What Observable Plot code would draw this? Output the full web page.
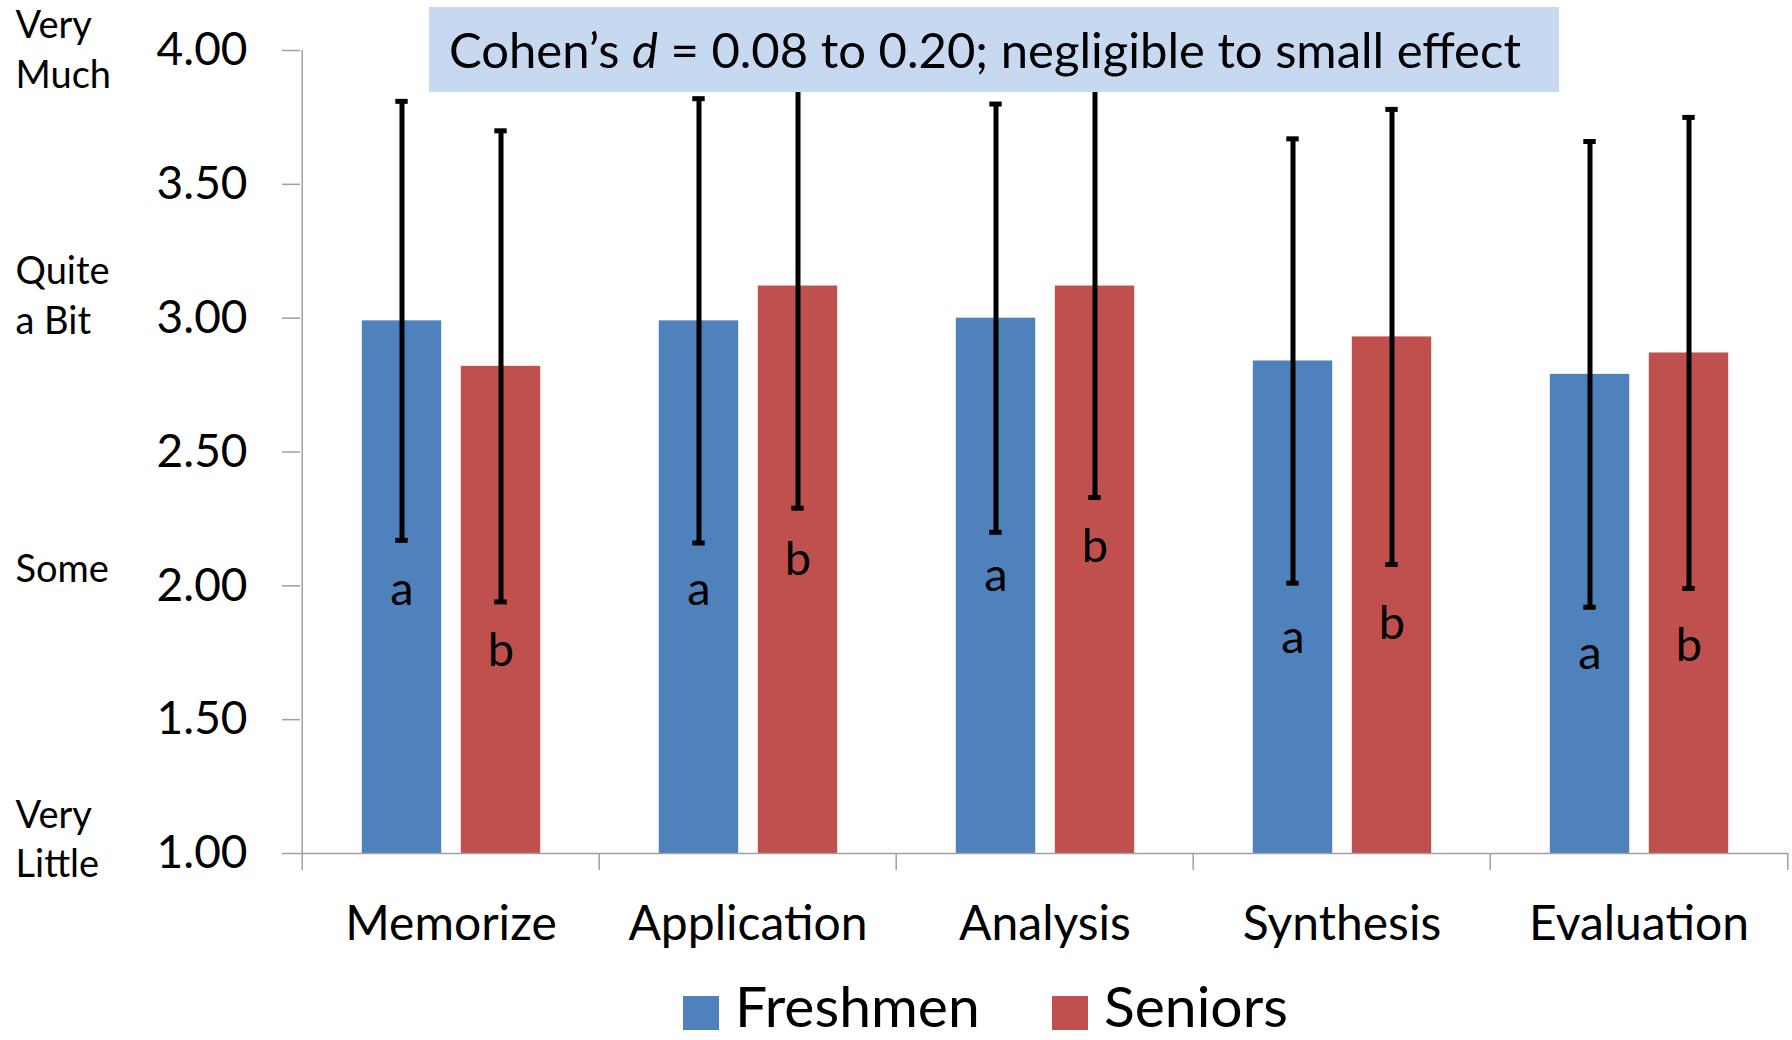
<!DOCTYPE html>
<html>
<head>
<meta charset="utf-8">
<script src="https://cdn.jsdelivr.net/npm/d3@7"></script>
<script src="https://cdn.jsdelivr.net/npm/@observablehq/plot@0.6"></script>
<style>
  html, body { margin: 0; padding: 0; background: #fff; overflow: hidden; }
  #wrap { position: relative; width: 1792px; height: 1040px; font-family: Lato, sans-serif; color: #000; }
  #chart { position: absolute; left: 0; top: 0; }
  #note { position: absolute; left: 429px; top: 7px; width: 1130px; height: 85px; background: #c6d9f1;
          font-size: 49px; line-height: 85px; padding-left: 20px; box-sizing: border-box; white-space: nowrap; }
  .item { position: absolute; top: 979px; display: flex; align-items: flex-start; font-size: 57px; line-height: 52px; }
  .sw { width: 36px; height: 34px; margin-top: 17px; margin-right: 16px; }
</style>
</head>
<body>
<div id="wrap">
  <div id="chart"></div>
  <div id="note"></div>
  <div id="legend"></div>
</div>
<script>
// ---- data ----
const categories = ["Memorize", "Application", "Analysis", "Synthesis", "Evaluation"];
const seriesNames = ["Freshmen", "Seniors"];
const freshmenMean = [2.99, 2.99, 3.00, 2.84, 2.79];
const freshmenSD   = [0.82, 0.83, 0.80, 0.83, 0.87];
const seniorsMean  = [2.82, 3.12, 3.12, 2.93, 2.87];
const seniorsSD    = [0.88, 0.83, 0.79, 0.85, 0.88];
const freshmenLetter = "a";
const seniorsLetter = "b";
const freshmenLetterAt = [1.93, 1.93, 1.98, 1.75, 1.69];
const seniorsLetterAt  = [1.70, 2.04, 2.09, 1.80, 1.72];
const yTicks = [1.0, 1.5, 2.0, 2.5, 3.0, 3.5, 4.0];
const scaleLabels = ["Very\nMuch", "Quite\na Bit", "Some", "Very\nLittle"];
const scaleLabelAt = [4.00, 3.08, 2.06, 1.05];
const noteParts = ["Cohen\u2019s ", "d", " = 0.08 to 0.20; negligible to small effect"];

// ---- styling / layout ----
const colors = {Freshmen: "#4f81bd", Seniors: "#c0504d"};
const axisGray = "#a0a0a0";
const W = 1792, H = 965, mL = 300, mR = 4, mT = 50, mB = 112;
const bw = (W - mL - mR) / categories.length;
const barW = 80, capW = 13;
const offset = {Freshmen: -49, Seniors: 50};

const rows = (name, means, sds, letter, letterAt) => categories.map((c, i) => ({
  category: c, series: name, mean: means[i], sd: sds[i], letter, letterAt: letterAt[i]
}));
const fresh = rows("Freshmen", freshmenMean, freshmenSD, freshmenLetter, freshmenLetterAt);
const sen = rows("Seniors", seniorsMean, seniorsSD, seniorsLetter, seniorsLetterAt);
const descriptors = scaleLabels.map((t, i) => ({text: t, at: scaleLabelAt[i]}));

function seriesMarks(data, name) {
  const dx = offset[name];
  return [
    Plot.barY(data, {x: "category", y1: 1, y2: "mean", fill: colors[name], dx,
      insetLeft: (bw - barW) / 2, insetRight: (bw - barW) / 2}),
    Plot.ruleX(data, {x: "category", y1: d => d.mean - d.sd, y2: d => d.mean + d.sd, dx,
      stroke: "black", strokeWidth: 5}),
    Plot.tickY(data, {x: "category", y: d => d.mean - d.sd, dx, stroke: "black", strokeWidth: 5,
      insetLeft: (bw - capW) / 2, insetRight: (bw - capW) / 2}),
    Plot.tickY(data, {x: "category", y: d => d.mean + d.sd, dx, stroke: "black", strokeWidth: 5,
      insetLeft: (bw - capW) / 2, insetRight: (bw - capW) / 2}),
    Plot.text(data, {x: "category", y: "letterAt", text: "letter", dx, fontSize: 47,
      lineAnchor: "bottom", fill: "black"})
  ];
}

const chart = Plot.plot({
  width: W, height: H,
  marginLeft: mL, marginRight: mR, marginTop: mT, marginBottom: mB,
  style: {fontFamily: "Lato, sans-serif", color: "black", background: "white"},
  x: {type: "band", domain: categories, padding: 0, label: null},
  y: {domain: [1, 4], label: null},
  marks: [
    ...seriesMarks(fresh, "Freshmen"),
    ...seriesMarks(sen, "Seniors"),
    Plot.ruleY([1], {stroke: axisGray, strokeWidth: 1.5}),
    Plot.ruleX([categories[0]], {x: d => d, y1: 1, y2: 4, dx: -bw / 2, stroke: axisGray, strokeWidth: 1.5}),
    Plot.axisY(yTicks, {tickFormat: d => d.toFixed(2), tickSize: 18, tickPadding: 35, fontSize: 46,
      stroke: axisGray, strokeWidth: 1.5, label: null}),
    Plot.axisX(categories, {tickSize: 17, fill: "none", dx: -bw / 2, stroke: axisGray, strokeWidth: 1.5, label: null}),
    Plot.axisX([categories[categories.length - 1]], {tickSize: 17, fill: "none", dx: bw / 2, stroke: axisGray, strokeWidth: 1.5, label: null}),
    Plot.axisX(categories, {tickSize: 0, tickPadding: 52, fontSize: 48, label: null}),
    Plot.text(descriptors, {frameAnchor: "left", y: "at", text: "text", textAnchor: "start",
      dx: -285, dy: -3.5, fontSize: 38, lineHeight: 1.3, lineAnchor: "middle", fill: "black"})
  ]
});
document.getElementById("chart").appendChild(chart);

// annotation box
const note = document.getElementById("note");
note.append(noteParts[0]);
const it = document.createElement("i"); it.textContent = noteParts[1]; note.append(it);
note.append(noteParts[2]);

// legend
const legend = document.getElementById("legend");
const legendLeft = {Freshmen: 683, Seniors: 1052};
seriesNames.forEach(name => {
  const item = document.createElement("div");
  item.className = "item";
  item.style.left = legendLeft[name] + "px";
  const sw = document.createElement("div");
  sw.className = "sw"; sw.style.background = colors[name];
  const label = document.createElement("span"); label.textContent = name;
  item.append(sw, label);
  legend.append(item);
});
</script>
</body>
</html>
